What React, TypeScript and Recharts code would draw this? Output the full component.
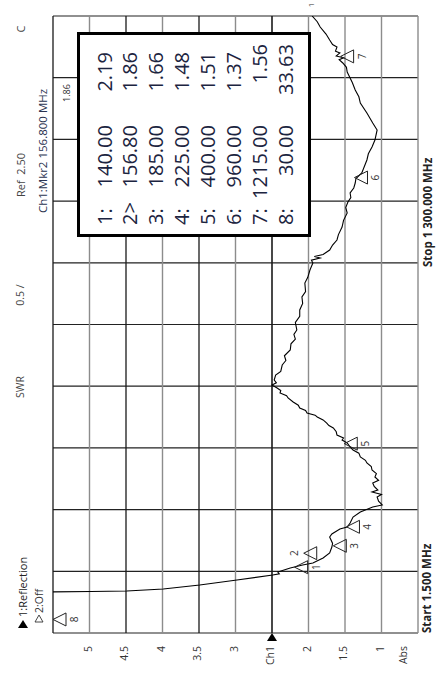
import React from 'react';
import { LineChart, Line, XAxis, YAxis, ReferenceLine, ReferenceDot } from 'recharts';

// ---- data ----
const traceFreqMHz = [
  1.5, 30, 60, 80, 88, 88.8, 89.9, 94.1, 102.5, 113.0,
  123.6, 126, 129.9, 138.3, 144.6, 148.8, 159.3, 169.9, 182.5, 190,
  203.5, 209.8, 220.4, 224.6, 233.0, 245.6, 256.1, 266.7, 270.9, 279,
  287.7, 293, 298.2, 302.4, 310, 317.2, 323, 329.8, 337, 344.5,
  352, 359.3, 365, 371.9, 380, 386.6, 393.0, 401.4, 407.7, 412,
  418.2, 425, 432.9, 438, 443.4, 450, 456.1, 460, 464.5, 470,
  475.0, 481, 487.6, 496.1, 501, 506.6, 512, 517.1, 523.5, 528,
  534, 544.5, 552, 565.5, 575, 585, 597.1, 610, 620, 630,
  639.2, 655, 668, 681.3, 695, 708.6, 720, 738.1, 750, 765.4,
  780.2, 786, 790.7, 794, 798, 807.5, 818, 828.6, 840, 855.9,
  870, 885.4, 897, 908.6, 918, 927.5, 938, 948.5, 958, 969.6,
  997.0, 1010, 1024.3, 1039.0, 1060.1, 1074.8, 1095.9, 1116.9, 1130, 1144.3,
  1160, 1169.5, 1182.1, 1192, 1201.1, 1208, 1212, 1216, 1222.1, 1226,
  1234.8, 1240, 1249.5, 1262, 1276.8, 1288, 1300,
];
const traceSwr = [
  60, 33.63, 14, 7.5, 5.5, 4.98, 4.49, 3.99, 3.49, 2.98,
  2.49, 2.40, 2.42, 2.25, 2.08, 1.94, 1.80, 1.71, 1.68, 1.67,
  1.71, 1.68, 1.57, 1.47, 1.43, 1.39, 1.29, 1.12, 0.99, 1.04,
  1.06, 1.00, 1.13, 1.05, 1.10, 1.12, 1.04, 1.09, 1.07, 1.13,
  1.14, 1.20, 1.22, 1.29, 1.31, 1.39, 1.43, 1.47, 1.54, 1.52,
  1.61, 1.62, 1.66, 1.72, 1.75, 1.80, 1.88, 1.91, 2.02, 2.04,
  2.12, 2.14, 2.21, 2.28, 2.30, 2.39, 2.38, 2.43, 2.50, 2.44,
  2.47, 2.45, 2.38, 2.36, 2.31, 2.33, 2.25, 2.24, 2.18, 2.20,
  2.16, 2.18, 2.12, 2.12, 2.08, 2.09, 2.04, 2.05, 2.01, 1.98,
  1.94, 1.96, 1.84, 1.92, 1.80, 1.71, 1.67, 1.61, 1.59, 1.54,
  1.52, 1.47, 1.49, 1.46, 1.42, 1.43, 1.38, 1.36, 1.35, 1.27,
  1.20, 1.18, 1.13, 1.09, 1.06, 1.12, 1.20, 1.29, 1.31, 1.36,
  1.40, 1.43, 1.47, 1.48, 1.53, 1.58, 1.52, 1.62, 1.57, 1.63,
  1.61, 1.67, 1.71, 1.76, 1.84, 1.88, 1.95,
];

const markerIds = ['1', '2', '3', '4', '5', '6', '7', '8'];
const markerSeps = [':', '>', ':', ':', ':', ':', ':', ':'];
const markerFreqMHz = [140.0, 156.8, 185.0, 225.0, 400.0, 960.0, 1215.0, 30.0];
const markerSwr = [2.19, 1.86, 1.66, 1.48, 1.51, 1.37, 1.56, 33.63];

const swrGridValues = [5.5, 5, 4.5, 4, 3.5, 3, 2.5, 2, 1.5, 1, 0.5];
const swrDarkLines = [5.5, 4.5, 3.5, 2.5];
const swrTickValues = [5, 4.5, 4, 3.5, 3, 2.5, 2, 1.5, 1, 0.5];
const swrTickLabels = ['5', '4.5', '4', '3.5', '3', 'Ch1', '2', '1.5', '1', 'Abs'];

const startMHz = 1.5;
const stopMHz = 1300;
const freqDivisions = 10;
const freqGrid = Array.from({ length: freqDivisions + 1 }, (_, k) => startMHz + (k * (stopMHz - startMHz)) / freqDivisions);

const data = traceFreqMHz.map((f, i) => ({ freq: f, swr: traceSwr[i] }));

const FONT = '"Open Sans", "DejaVu Sans", sans-serif';

const rot = (x: number, y: number) => `translate(${x},${y}) rotate(-90)`;

const SwrTick = (props: any) => {
  const { x, payload } = props;
  const idx = swrTickValues.indexOf(payload.value);
  const label = swrTickLabels[idx];
  const cx = x - (label === 'Abs' ? 15 : 2);
  return (
    <g>
      {label === 'Ch1' && <polygon points={`${x},633 ${x - 5},641 ${x + 5},641`} fill="#000" />}
      <text transform={rot(cx, 646)} textAnchor="end" dominantBaseline="central" fontSize={10.5} fill="#333" fontFamily={FONT}>
        {label}
      </text>
    </g>
  );
};

const makeMarkerShape = (i: number) => (p: any) => {
  const active = i === 1;
  const tx = p.cx + (active ? -15 : 0);
  const ty = p.cy + (active ? -6 : 0);
  const lx = active ? tx - 10 : tx + 21;
  return (
    <g>
      <polygon points={`${tx},${ty} ${tx + 13},${ty - 6.5} ${tx + 13},${ty + 6.5}`} fill="none" stroke="#222" strokeWidth={1} />
      <text transform={rot(lx, ty)} textAnchor="middle" dominantBaseline="central" fontSize={10} fill="#333" fontFamily={FONT}>
        {markerIds[i]}
      </text>
    </g>
  );
};

const Overlay = () => {
  const colX = (i: number) => 104 + i * 25.96;
  return (
    <svg width={438} height={685} style={{ position: 'absolute', left: 0, top: 0, pointerEvents: 'none' }}>
      {/* left side labels */}
      <text transform={rot(20, 29)} textAnchor="middle" dominantBaseline="central" fontSize={11} fill="#444" fontFamily={FONT}>C</text>
      <text transform={rot(20, 175)} textAnchor="middle" dominantBaseline="central" fontSize={11} fill="#444" fontFamily={FONT} xmlSpace="preserve">Ref  2.50</text>
      <text transform={rot(20, 295)} textAnchor="middle" dominantBaseline="central" fontSize={10.5} fill="#444" fontFamily={FONT} xmlSpace="preserve">0.5 /</text>
      <text transform={rot(20, 387)} textAnchor="middle" dominantBaseline="central" fontSize={10.5} fill="#444" fontFamily={FONT}>SWR</text>
      <polygon points="23,620 18,628 28,628" fill="#000" />
      <text transform={rot(22, 617)} textAnchor="start" dominantBaseline="central" fontSize={11} fill="#222" fontFamily={FONT}>1:Reflection</text>
      <polygon points="39,615 35,622 43,622" fill="none" stroke="#333" strokeWidth={0.9} />
      <text transform={rot(39, 613)} textAnchor="start" dominantBaseline="central" fontSize={10.5} fill="#333" fontFamily={FONT}>2:Off</text>
      <text transform={rot(42, 151)} textAnchor="middle" dominantBaseline="central" fontSize={11.5} fill="#2a3350" fontFamily={FONT}>Ch1:Mkr2 156.800 MHz</text>
      <text transform={rot(66, 93)} textAnchor="middle" dominantBaseline="central" fontSize={9} fill="#333" fontFamily={FONT}>1.86</text>
      <text transform={rot(310, 5)} textAnchor="middle" dominantBaseline="central" fontSize={8} fill="#333" fontFamily={FONT}>1</text>
      {/* right side labels */}
      <text transform={rot(426, 633)} textAnchor="start" dominantBaseline="central" fontSize={11.5} fontWeight="bold" fill="#222" fontFamily={FONT}>Start 1.500 MHz</text>
      <text transform={rot(427, 267)} textAnchor="start" dominantBaseline="central" fontSize={11.5} fontWeight="bold" fill="#222" fontFamily={FONT}>Stop 1 300.000 MHz</text>
      {/* marker table */}
      <rect x={78.5} y={33.5} width={231} height={202} fill="#fff" stroke="#000" strokeWidth={3} />
      {markerIds.map((id, i) => (
        <g key={id} fontFamily={FONT} fontSize={20} fill="#1c2440">
          <text transform={rot(colX(i), 225)} textAnchor="start" dominantBaseline="central">{id + markerSeps[i]}</text>
          <text transform={rot(colX(i), 125)} textAnchor="end" dominantBaseline="central">{markerFreqMHz[i].toFixed(2)}</text>
          <text transform={rot(colX(i), i >= 6 ? 44 : 52)} textAnchor="end" dominantBaseline="central">{markerSwr[i].toFixed(2)}</text>
        </g>
      ))}
    </svg>
  );
};

export default function App() {
  return (
    <div style={{ position: 'absolute', left: 0, top: 0, width: 438, height: 685, background: '#fff' }}>
      <LineChart width={438} height={685} layout="vertical" data={data} margin={{ top: 16, right: 20, bottom: 0, left: 53 }}>
        <XAxis
          type="number"
          dataKey="swr"
          domain={[0.5, 5.5]}
          reversed
          allowDataOverflow
          ticks={swrTickValues}
          interval={0}
          height={52}
          axisLine={false}
          tickLine={false}
          tick={<SwrTick />}
        />
        <YAxis type="number" dataKey="freq" domain={[startMHz, stopMHz]} reversed allowDataOverflow hide />
        {freqGrid.map((f) => (
          <ReferenceLine key={'f' + f} y={f} stroke="#222" strokeWidth={1.2} />
        ))}
        {swrGridValues.map((s) => (
          <ReferenceLine
            key={'s' + s}
            x={s}
            stroke={swrDarkLines.includes(s) ? '#1a1a1a' : '#8c8c8c'}
            strokeWidth={s === 2.5 ? 1.6 : swrDarkLines.includes(s) ? 1.3 : 1.4}
          />
        ))}
        <Line type="linear" dataKey="swr" stroke="#000" strokeWidth={1.1} dot={false} isAnimationActive={false} />
        {markerIds.map((id, i) => (
          <ReferenceDot key={'m' + id} x={Math.min(markerSwr[i], 5.5)} y={markerFreqMHz[i]} r={0} shape={makeMarkerShape(i)} />
        ))}
      </LineChart>
      <Overlay />
    </div>
  );
}
